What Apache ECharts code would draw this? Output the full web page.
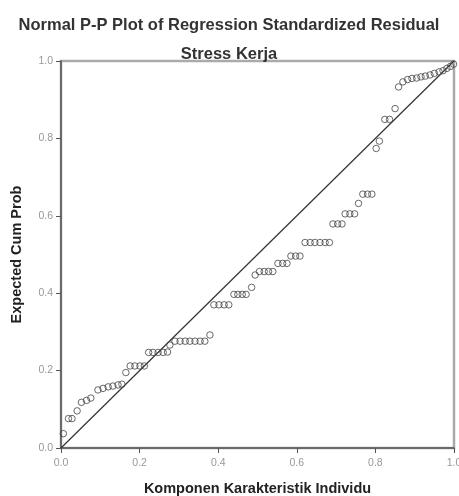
<!DOCTYPE html>
<html>
<head>
<meta charset="utf-8">
<script src="https://cdn.jsdelivr.net/npm/echarts@6/dist/echarts.min.js"></script>
<style>
  html, body { margin: 0; padding: 0; background: #fff; }
  #chart { width: 459px; height: 496px; }
</style>
</head>
<body>
<div id="chart"></div>
<script>
const obsProb = [
  0.006, 0.019, 0.028, 0.041, 0.052, 0.065, 0.076, 0.094, 0.107, 0.120,
  0.132, 0.145, 0.155, 0.165, 0.176, 0.188, 0.201, 0.212, 0.223, 0.234,
  0.247, 0.260, 0.271, 0.277, 0.290, 0.303, 0.316, 0.328, 0.341, 0.354,
  0.366, 0.379, 0.389, 0.402, 0.415, 0.427, 0.440, 0.450, 0.461, 0.471,
  0.485, 0.494, 0.505, 0.517, 0.528, 0.539, 0.552, 0.564, 0.575, 0.585,
  0.597, 0.608, 0.621, 0.634, 0.646, 0.659, 0.672, 0.683, 0.692, 0.704,
  0.715, 0.723, 0.735, 0.747, 0.757, 0.768, 0.780, 0.791, 0.802, 0.810,
  0.824, 0.836, 0.850, 0.859, 0.870, 0.882, 0.893, 0.905, 0.916, 0.927,
  0.939, 0.950, 0.962, 0.972, 0.982, 0.991, 0.999
]
const expProb = [
  0.037, 0.076, 0.076, 0.096, 0.118, 0.123, 0.129, 0.150, 0.154, 0.158,
  0.160, 0.163, 0.165, 0.195, 0.212, 0.212, 0.212, 0.212, 0.247, 0.247,
  0.247, 0.247, 0.248, 0.266, 0.276, 0.276, 0.276, 0.276, 0.276, 0.276,
  0.276, 0.292, 0.370, 0.370, 0.370, 0.370, 0.397, 0.397, 0.397, 0.397,
  0.415, 0.447, 0.456, 0.456, 0.456, 0.456, 0.477, 0.477, 0.477, 0.496,
  0.496, 0.496, 0.531, 0.531, 0.531, 0.531, 0.531, 0.531, 0.579, 0.579,
  0.579, 0.605, 0.605, 0.605, 0.632, 0.656, 0.656, 0.656, 0.774, 0.793,
  0.849, 0.849, 0.877, 0.933, 0.946, 0.952, 0.955, 0.956, 0.959, 0.961,
  0.964, 0.968, 0.972, 0.975, 0.981, 0.986, 0.992
]
const refLine = [[0, 0], [1, 1]]

const titleText = 'Normal P-P Plot of Regression Standardized Residual'
const subText = 'Stress Kerja'
const xName = 'Komponen Karakteristik Individu'
const yName = 'Expected Cum Prob'

const points = obsProb.map((x, i) => [x, expProb[i]])
const font = '"Liberation Sans", Arial, sans-serif'

const axisCommon = {
  type: 'value',
  min: 0,
  max: 1,
  interval: 0.2,
  nameLocation: 'middle',
  nameTextStyle: { fontFamily: font, fontWeight: 'bold', fontSize: 14.5, color: '#222' },
  axisLine: { show: true, lineStyle: { color: '#555', width: 1.5 } },
  axisTick: { show: true, length: 5, lineStyle: { color: '#555' } },
  axisLabel: {
    fontFamily: font, fontSize: 10.5, color: '#999',
    formatter: v => v.toFixed(1)
  },
  splitLine: { show: false }
}

const chart = echarts.init(document.getElementById('chart'))
chart.setOption({
  animation: false,
  backgroundColor: '#fff',
  title: [
    {
      text: titleText, left: 224, textAlign: 'center', top: 12,
      textStyle: { fontFamily: font, fontWeight: 'bold', fontSize: 16.5, color: '#333' }
    },
    {
      text: subText, left: 224, textAlign: 'center', top: 41,
      textStyle: { fontFamily: font, fontWeight: 'bold', fontSize: 16.5, color: '#333' }
    }
  ],
  grid: {
    left: 61, right: 5, top: 61, bottom: 48,
    outerBoundsMode: 'none',
    containLabel: false,
    show: true, borderColor: '#aaa', borderWidth: 2.5, backgroundColor: '#fff'
  },
  xAxis: Object.assign({}, axisCommon, {
    name: xName, nameGap: 33,
    axisLabel: Object.assign({}, axisCommon.axisLabel, { margin: 10 })
  }),
  yAxis: Object.assign({}, axisCommon, { name: yName, nameGap: 37 }),
  series: [
    {
      type: 'line',
      data: refLine,
      symbol: 'none',
      lineStyle: { color: '#333', width: 1.2 },
      z: 2
    },
    {
      type: 'scatter',
      data: points,
      symbol: 'circle',
      symbolSize: 6.5,
      itemStyle: { color: 'rgba(255,255,255,0)', borderColor: '#444', borderWidth: 1 },
      z: 3
    }
  ]
})
</script>
</body>
</html>
